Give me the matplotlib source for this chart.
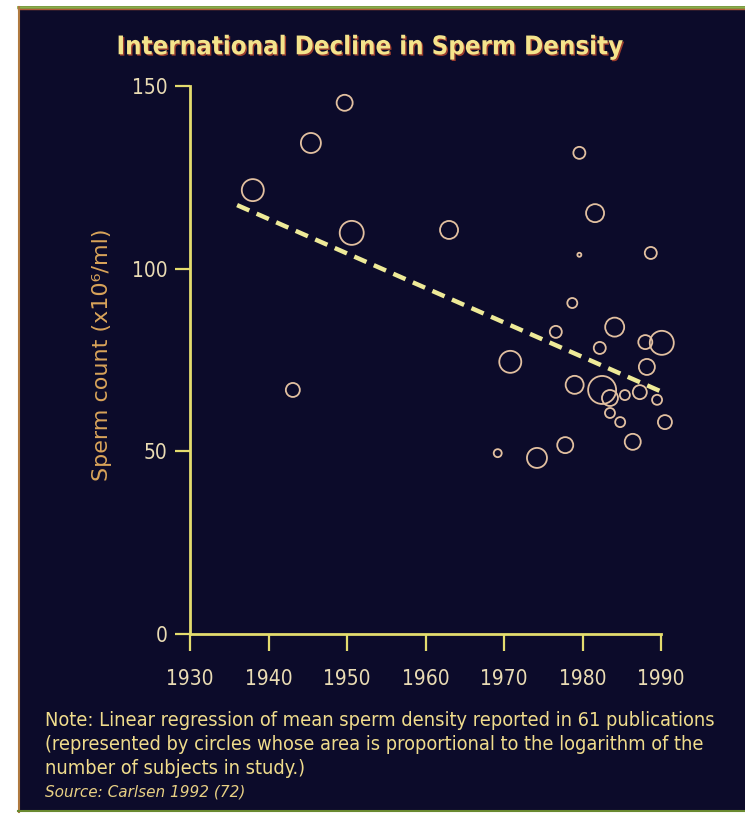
import matplotlib
matplotlib.use('Agg')
import matplotlib.pyplot as plt
from matplotlib.patches import Rectangle
import matplotlib.patheffects as pe

# studies: year of publication, mean sperm density, circle radius (~ log of subjects)
years = [1938.0, 1945.4, 1949.7, 1950.6, 1963.0, 1943.1,
         1979.6, 1981.6, 1979.6, 1988.7, 1978.7, 1984.1, 1976.6,
         1988.0, 1990.1, 1982.2, 1970.8, 1988.2, 1979.0, 1982.5,
         1987.3, 1983.5, 1985.4, 1989.5, 1983.5, 1984.8, 1990.5,
         1986.4, 1977.8, 1969.2, 1974.2]
sperm_count = [121.5, 134.4, 145.4, 109.8, 110.6, 66.8,
               131.7, 115.2, 103.8, 104.3, 90.6, 84.0, 82.7,
               79.9, 79.7, 78.3, 74.5, 73.1, 68.2, 66.8,
               66.2, 64.6, 65.4, 64.1, 60.5, 58.0, 58.0,
               52.6, 51.7, 49.5, 48.2]
circle_radius = [11, 10, 8, 12, 9, 7,
                 6, 9, 2, 6, 5, 9.5, 6,
                 7, 12, 6, 11, 8, 9, 14,
                 7, 8, 5, 5, 5, 5, 7,
                 8, 8, 4, 10]

# linear regression line end points
fit_years = [1936.0, 1990.2]
fit_count = [117.4, 66.2]

x_ticks = [1930, 1940, 1950, 1960, 1970, 1980, 1990]
y_ticks = [0, 50, 100, 150]

bg = '#0c0b2a'
font = 'DejaVu Sans'

fig = plt.figure(figsize=(7.45, 8.15), dpi=100, facecolor='white')
# dark slide area
fig.patches.append(Rectangle((18 / 745, 3 / 815), 1 - 18 / 745, 1 - 9 / 815,
                             transform=fig.transFigure, facecolor=bg,
                             edgecolor='none', zorder=-5))
fig.add_artist(plt.Line2D([18 / 745, 1], [1 - 7 / 815, 1 - 7 / 815],
                          transform=fig.transFigure, color='#8aae48', lw=2, zorder=-4))
fig.add_artist(plt.Line2D([18 / 745, 1], [1 - 9 / 815, 1 - 9 / 815],
                          transform=fig.transFigure, color='#b05a38', lw=1, zorder=-4))
fig.add_artist(plt.Line2D([19 / 745, 19 / 745], [3 / 815, 1 - 7 / 815],
                          transform=fig.transFigure, color='#b07a40', lw=1.5, zorder=-4))
fig.add_artist(plt.Line2D([18 / 745, 1], [4 / 815, 4 / 815],
                          transform=fig.transFigure, color='#6a8a30', lw=1.5, zorder=-4))

ax = fig.add_axes([190 / 745, 181 / 815, 471 / 745, 548 / 815])
ax.set_facecolor('none')

ax.scatter(years, sperm_count, s=[(2 * r * 0.72) ** 2 for r in circle_radius],
           facecolors='none', edgecolors='#e2c0a0', linewidths=1.3,
           clip_on=False, zorder=2)
ax.plot(fit_years, fit_count, linestyle=(0, (3.0, 1.8)), lw=3.2,
        color='#eeea98', dash_capstyle='butt', zorder=3)

ax.set_xlim(1930, 1990)
ax.set_ylim(0, 150)
ax.set_xticks(x_ticks)
ax.set_yticks(y_ticks)

for side in ['top', 'right']:
    ax.spines[side].set_visible(False)
for side in ['left', 'bottom']:
    ax.spines[side].set_color('#e4dc6e')
    ax.spines[side].set_linewidth(2)

ax.tick_params(axis='x', length=12, width=1.6, pad=13, color='#e4dc6e',
               labelcolor='#eadcb4', labelsize=15)
ax.tick_params(axis='y', length=11, width=1.6, pad=5, color='#e4dc6e',
               labelcolor='#eadcb4', labelsize=15)
for lab in ax.get_xticklabels() + ax.get_yticklabels():
    lab.set_family(font)
    lab.set_stretch('condensed')

ax.set_ylabel('Sperm count (x10⁶/ml)', color='#d9a45a', fontsize=16,
              family=font)
ax.yaxis.set_label_coords(-0.165, 0.51)

fig.text(0.497, 0.942, 'International Decline in Sperm Density',
         ha='center', va='center', fontsize=18.5, fontweight='bold',
         color='#f4e48c', family=font, stretch='condensed',
         path_effects=[pe.withSimplePatchShadow(offset=(1, -1),
                                                shadow_rgbFace='#c04a30', alpha=0.8)])

note_lines = [
    'Note: Linear regression of mean sperm density reported in 61 publications',
    '(represented by circles whose area is proportional to the logarithm of the',
    'number of subjects in study.)',
]
for i, line in enumerate(note_lines):
    fig.text(45 / 745, 1 - (720 + 24 * i) / 815, line, ha='left', va='center',
             fontsize=14.3, color='#f0dc8c', family=font, stretch='condensed')
fig.text(45 / 745, 1 - 792 / 815, 'Source: Carlsen 1992 (72)', ha='left',
         va='center', fontsize=11, style='italic', color='#e8d084', family=font)

fig.savefig('out.png', dpi=100, facecolor=fig.get_facecolor())
